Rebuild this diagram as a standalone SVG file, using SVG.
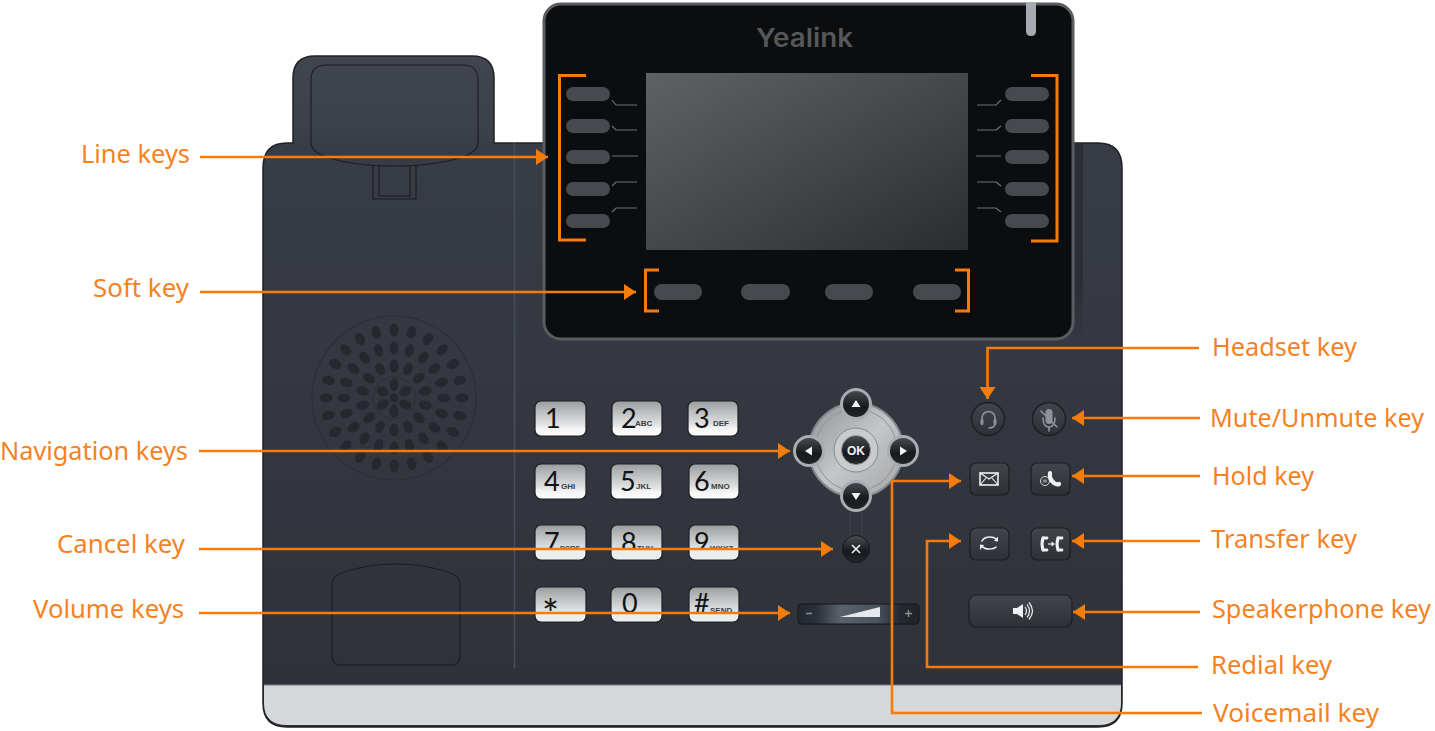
<svg xmlns="http://www.w3.org/2000/svg" width="1435" height="731" viewBox="0 0 1435 731">
<style>
.lbl{font-family:"Noto Sans","Open Sans",sans-serif;font-size:25.500px;fill:#f5821f}
.con{fill:none;stroke:#f57c0a;stroke-width:2.6}
.arr{marker-end:url(#ah)}
.brk{fill:none;stroke:#f57c0a;stroke-width:3}
.lk{fill:#46494d}
.tick{fill:none;stroke:#6e7174;stroke-width:1.2}
.key{fill:url(#kg);stroke:#1f2127;stroke-width:1.2}
.ks{fill:#eceded}
.dg{font-family:"Lato","Liberation Sans",sans-serif;font-size:27px;fill:#101214}
.sb{font-family:"Liberation Sans",sans-serif;font-size:8px;font-weight:bold;fill:#3a3c40}
.hole{fill:#25282e}
.nb{fill:url(#db);stroke:#a9acb0;stroke-width:3}
.tri{fill:#f1f2f3}
.fb{fill:url(#fbg);stroke:#1d1f24;stroke-width:1.2}
.fi{fill:url(#fbg);stroke:#1d1f24;stroke-width:1.5}
.ic{fill:none;stroke:#eef0f1;stroke-width:1.6;stroke-linecap:round}
.icf{fill:#eef0f1}
.dim{fill:none;stroke:#90949a;stroke-width:1.6;stroke-linecap:round}
.thin{fill:none;stroke:#1b1d22;stroke-width:1.1}
</style>
<defs>
<marker id="ah" markerUnits="userSpaceOnUse" markerWidth="13" markerHeight="16" refX="12" refY="8" orient="auto"><path d="M0,0L12,8L0,16z" fill="#f57c0a"/></marker>
<linearGradient id="body" x1="0" y1="0" x2="0" y2="1"><stop offset="0" stop-color="#41454e"/><stop offset=".11" stop-color="#3c4049"/><stop offset=".14" stop-color="#383c45"/><stop offset="1" stop-color="#2e3138"/></linearGradient>
<linearGradient id="strip" x1="0" y1="0" x2="0" y2="1"><stop offset="0" stop-color="#2a2d33"/><stop offset=".75" stop-color="#2c2f36"/><stop offset="1" stop-color="#2c2f36" stop-opacity="0"/></linearGradient>
<linearGradient id="scr" x1="0" y1="0" x2="1" y2="1"><stop offset="0" stop-color="#5e6264"/><stop offset=".6" stop-color="#404345"/><stop offset="1" stop-color="#2a2c2e"/></linearGradient>
<linearGradient id="kg" x1="0" y1="0" x2="0" y2="1"><stop offset="0" stop-color="#9a9d9f"/><stop offset=".65" stop-color="#dfe0e1"/><stop offset=".8" stop-color="#f5f5f5"/><stop offset="1" stop-color="#ffffff"/></linearGradient>
<linearGradient id="db" x1="0" y1="0" x2="0" y2="1"><stop offset="0" stop-color="#4a4d52"/><stop offset=".6" stop-color="#17191c"/><stop offset="1" stop-color="#23262a"/></linearGradient>
<linearGradient id="nd" x1="0" y1="0" x2="1" y2="1"><stop offset="0" stop-color="#8f9296"/><stop offset=".5" stop-color="#c4c6c8"/><stop offset="1" stop-color="#a3a6a9"/></linearGradient>
<linearGradient id="fbg" x1="0" y1="0" x2="0" y2="1"><stop offset="0" stop-color="#42454c"/><stop offset="1" stop-color="#2e3036"/></linearGradient>
<linearGradient id="vol" x1="0" y1="0" x2="1" y2="0"><stop offset="0" stop-color="#232830"/><stop offset=".15" stop-color="#2a3038"/><stop offset=".35" stop-color="#59616a"/><stop offset=".65" stop-color="#4b535c"/><stop offset=".85" stop-color="#232830"/><stop offset="1" stop-color="#20252b"/></linearGradient>
<ellipse id="h" class="hole" rx="4.500" ry="6.500"/>
</defs>

<g id="phone-body">
<path d="M293,143V78Q293,56 315,56H472Q494,56 494,78V143H1098Q1122,143 1122,168V703Q1122,727 1098,727H287Q263,727 263,703V168Q263,143 287,143Z" fill="url(#body)" stroke="#1f2126" stroke-width="1.500"/>
<path d="M264,685H1121V703Q1121,725 1098,725H287Q264,725 264,703Z" fill="#d6d7d9"/>
<path d="M264,685H1121" stroke="#7d8084" stroke-width="1"/>
<path d="M514.500,143V668" stroke="#4a4e57" stroke-width="1.500"/>
<rect x="1075" y="143" width="8" height="197" fill="url(#strip)"/>
</g>
<g id="handset-cradle">
<path d="M311,80Q311,65 326,65H463Q478,65 478,80V142Q478,152 462,157Q435,166 394,166Q353,166 327,157Q311,152 311,142Z" class="thin"/>
<path d="M373,166V199H416V166M379,166V196H410V166" class="thin"/>
</g>
<g id="hook-pad">
<path d="M332,585Q332,575 347,571Q370,564 396,564Q422,564 445,571Q460,575 460,585V656Q460,665 451,665H341Q332,665 332,656Z" class="thin"/>
</g>
<g id="speaker-grille" transform="translate(394 398)">
<circle r="82" fill="none" stroke="#2c2f35" stroke-width="1.200"/>
<circle r="21" fill="none" stroke="#2c2f35" stroke-width="1"/>
<circle r="4.500" class="hole"/>
<use href="#h" transform="rotate(0) translate(0 -13)"/><use href="#h" transform="rotate(60) translate(0 -13)"/><use href="#h" transform="rotate(120) translate(0 -13)"/><use href="#h" transform="rotate(180) translate(0 -13)"/><use href="#h" transform="rotate(240) translate(0 -13)"/><use href="#h" transform="rotate(300) translate(0 -13)"/>
<use href="#h" transform="rotate(0) translate(0 -32)"/><use href="#h" transform="rotate(25.700) translate(0 -32)"/><use href="#h" transform="rotate(51.400) translate(0 -32)"/><use href="#h" transform="rotate(77.100) translate(0 -32)"/><use href="#h" transform="rotate(102.900) translate(0 -32)"/><use href="#h" transform="rotate(128.600) translate(0 -32)"/><use href="#h" transform="rotate(154.300) translate(0 -32)"/><use href="#h" transform="rotate(180) translate(0 -32)"/><use href="#h" transform="rotate(205.700) translate(0 -32)"/><use href="#h" transform="rotate(231.400) translate(0 -32)"/><use href="#h" transform="rotate(257.100) translate(0 -32)"/><use href="#h" transform="rotate(282.900) translate(0 -32)"/><use href="#h" transform="rotate(308.600) translate(0 -32)"/><use href="#h" transform="rotate(334.300) translate(0 -32)"/>
<use href="#h" transform="rotate(0) translate(0 -50)"/><use href="#h" transform="rotate(18) translate(0 -50)"/><use href="#h" transform="rotate(36) translate(0 -50)"/><use href="#h" transform="rotate(54) translate(0 -50)"/><use href="#h" transform="rotate(72) translate(0 -50)"/><use href="#h" transform="rotate(90) translate(0 -50)"/><use href="#h" transform="rotate(108) translate(0 -50)"/><use href="#h" transform="rotate(126) translate(0 -50)"/><use href="#h" transform="rotate(144) translate(0 -50)"/><use href="#h" transform="rotate(162) translate(0 -50)"/><use href="#h" transform="rotate(180) translate(0 -50)"/><use href="#h" transform="rotate(198) translate(0 -50)"/><use href="#h" transform="rotate(216) translate(0 -50)"/><use href="#h" transform="rotate(234) translate(0 -50)"/><use href="#h" transform="rotate(252) translate(0 -50)"/><use href="#h" transform="rotate(270) translate(0 -50)"/><use href="#h" transform="rotate(288) translate(0 -50)"/><use href="#h" transform="rotate(306) translate(0 -50)"/><use href="#h" transform="rotate(324) translate(0 -50)"/><use href="#h" transform="rotate(342) translate(0 -50)"/>
<use href="#h" transform="rotate(0) translate(0 -68)"/><use href="#h" transform="rotate(15) translate(0 -68)"/><use href="#h" transform="rotate(30) translate(0 -68)"/><use href="#h" transform="rotate(45) translate(0 -68)"/><use href="#h" transform="rotate(60) translate(0 -68)"/><use href="#h" transform="rotate(75) translate(0 -68)"/><use href="#h" transform="rotate(90) translate(0 -68)"/><use href="#h" transform="rotate(105) translate(0 -68)"/><use href="#h" transform="rotate(120) translate(0 -68)"/><use href="#h" transform="rotate(135) translate(0 -68)"/><use href="#h" transform="rotate(150) translate(0 -68)"/><use href="#h" transform="rotate(165) translate(0 -68)"/><use href="#h" transform="rotate(180) translate(0 -68)"/><use href="#h" transform="rotate(195) translate(0 -68)"/><use href="#h" transform="rotate(210) translate(0 -68)"/><use href="#h" transform="rotate(225) translate(0 -68)"/><use href="#h" transform="rotate(240) translate(0 -68)"/><use href="#h" transform="rotate(255) translate(0 -68)"/><use href="#h" transform="rotate(270) translate(0 -68)"/><use href="#h" transform="rotate(285) translate(0 -68)"/><use href="#h" transform="rotate(300) translate(0 -68)"/><use href="#h" transform="rotate(315) translate(0 -68)"/><use href="#h" transform="rotate(330) translate(0 -68)"/><use href="#h" transform="rotate(345) translate(0 -68)"/>
</g>

<g id="display">
<rect x="544" y="4" width="529" height="335" rx="17" fill="#0c0d0e" stroke="#5a5c60" stroke-width="3"/>
<path d="M1026,3H1036V31Q1036,36 1031,36Q1026,36 1026,31Z" fill="#a7aab1"/>
<text x="756" y="47" font-family="Inter,'Liberation Sans',sans-serif" font-size="26" font-weight="600" fill="#55585b" textLength="97" lengthAdjust="spacingAndGlyphs">Yealink</text>
<rect x="646" y="73" width="322" height="177" fill="url(#scr)"/>
</g>
<g id="line-keys-left">
<rect class="lk" x="566" y="87" width="44" height="14" rx="7"/><rect class="lk" x="566" y="119" width="44" height="14" rx="7"/><rect class="lk" x="566" y="150" width="44" height="14" rx="7"/><rect class="lk" x="566" y="182" width="44" height="14" rx="7"/><rect class="lk" x="566" y="214" width="44" height="14" rx="7"/>
<path class="tick" d="M612,100L616,105H637M612,126L616,130H637M612,156H638M612,186L616,182H637M612,212L616,208H637"/>
<path class="brk" d="M586,75.500H559.500V240H586"/>
</g>
<g id="line-keys-right">
<rect class="lk" x="1005" y="87" width="44" height="14" rx="7"/><rect class="lk" x="1005" y="119" width="44" height="14" rx="7"/><rect class="lk" x="1005" y="150" width="44" height="14" rx="7"/><rect class="lk" x="1005" y="182" width="44" height="14" rx="7"/><rect class="lk" x="1005" y="214" width="44" height="14" rx="7"/>
<path class="tick" d="M977,105H996L1001,100M977,130H996L1001,126M976,156H1001M977,182H996L1001,186M977,208H996L1001,212"/>
<path class="brk" d="M1031,75.500H1057V241H1031"/>
</g>
<g id="soft-keys">
<rect class="lk" x="654" y="284" width="48" height="16" rx="8"/><rect class="lk" x="741" y="284" width="49" height="16" rx="8"/><rect class="lk" x="825" y="284" width="48" height="16" rx="8"/><rect class="lk" x="913" y="284" width="48" height="16" rx="8"/>
<path class="brk" d="M659,270H645.500V311H659M955,270H968.500V311H955"/>
</g>

<g id="keypad">
<rect class="key" x="535" y="401" width="51" height="35" rx="6"/><text class="dg" x="545" y="428">1</text>
<rect class="key" x="612" y="401" width="50" height="35" rx="6"/><text class="dg" x="621" y="428">2</text><text class="sb" x="635" y="426">ABC</text>
<rect class="key" x="688" y="401" width="50" height="35" rx="6"/><text class="dg" x="694" y="428">3</text><text class="sb" x="713" y="426">DEF</text>
<rect class="key" x="535" y="464" width="51" height="35" rx="6"/><text class="dg" x="544" y="491">4</text><text class="sb" x="561" y="489">GHI</text>
<rect class="key" x="611" y="464" width="51" height="35" rx="6"/><text class="dg" x="620" y="491">5</text><text class="sb" x="636" y="489">JKL</text>
<rect class="key" x="689" y="464" width="50" height="35" rx="6"/><text class="dg" x="694" y="491">6</text><text class="sb" x="711" y="489">MNO</text>
<rect class="key" x="535" y="525" width="51" height="35" rx="6"/><text class="dg" x="544" y="552">7</text><text class="sb" x="560" y="551" textLength="20" lengthAdjust="spacingAndGlyphs">PQRS</text><rect class="ks" x="537" y="550" width="47" height="9" rx="3"/>
<rect class="key" x="611" y="525" width="51" height="35" rx="6"/><text class="dg" x="621" y="552">8</text><text class="sb" x="637" y="551">TUV</text><rect class="ks" x="613" y="550" width="47" height="9" rx="3"/>
<rect class="key" x="689" y="525" width="50" height="35" rx="6"/><text class="dg" x="694" y="552">9</text><text class="sb" x="710" y="551">WXYZ</text><rect class="ks" x="691" y="550" width="46" height="9" rx="3"/>
<rect class="key" x="535" y="587" width="51" height="35" rx="6"/><text class="dg" x="542" y="629" style="font-size:40px">*</text><text class="dg" x="566" y="616">.</text><rect class="ks" x="537" y="614" width="47" height="7" rx="3"/>
<rect class="key" x="611" y="587" width="51" height="35" rx="6"/><text class="dg" x="622" y="613">0</text><rect class="ks" x="613" y="614" width="47" height="7" rx="3"/>
<rect class="key" x="689" y="587" width="50" height="35" rx="6"/><text class="dg" x="694" y="613">#</text><text class="sb" x="710" y="613">SEND</text><rect class="ks" x="691" y="614" width="46" height="7" rx="3"/>
</g>

<g id="navigation">
<circle cx="856" cy="450" r="47" fill="url(#nd)" stroke="#85888c" stroke-width="2"/>
<circle cx="856" cy="450" r="41" fill="none" stroke="#8f9296" stroke-width="1"/>
<circle class="nb" cx="856" cy="404" r="14.500"/><path class="tri" d="M856,400L860.500,407H851.500Z"/>
<circle class="nb" cx="856" cy="496" r="14.500"/><path class="tri" d="M856,500L860.500,493H851.500Z"/>
<circle class="nb" cx="809" cy="451" r="14.500"/><path class="tri" d="M805,451L812,446.500V455.500Z"/>
<circle class="nb" cx="903" cy="451" r="14.500"/><path class="tri" d="M907,451L900,446.500V455.500Z"/>
<circle cx="856" cy="450" r="22" fill="#c9cbcd" stroke="#85888c" stroke-width="1"/>
<circle cx="856" cy="450" r="14.500" fill="url(#db)" stroke="#8f9296" stroke-width="1"/>
<text x="856" y="454.500" text-anchor="middle" font-family="'Liberation Sans',sans-serif" font-size="12" font-weight="bold" fill="#f1f2f3">OK</text>
</g>
<g id="cancel-key">
<path d="M850,513V535M862,513V535" stroke="#3f434b" stroke-width="1" fill="none"/>
<circle cx="856" cy="549" r="13.500" fill="url(#db)" stroke="#15171a" stroke-width="1"/>
<path d="M852,545L860,553M860,545L852,553" stroke="#f1f2f3" stroke-width="1.600" fill="none"/>
</g>
<g id="volume-keys">
<rect x="798" y="604" width="121" height="20" rx="3" fill="url(#vol)" stroke="#15171a"/>
<path d="M806,613.500H812M905,613.500H912M908.500,610V617" stroke="#8a8e93" stroke-width="1.400" fill="none"/>
<path d="M840,617L880,607V617Z" fill="#e6e8e9"/>
</g>
<g id="headset-key">
<circle class="fi" cx="988" cy="419" r="16.500"/>
<path class="dim" d="M982,422V418A6.500,6.500 0 0 1 995,418V422"/><path class="dim" d="M995,424Q994,428 989,428"/>
<rect x="980.500" y="419" width="3" height="6" rx="1.500" fill="#90949a"/><rect x="993.500" y="419" width="3" height="6" rx="1.500" fill="#90949a"/>
</g>
<g id="mute-key">
<circle class="fi" cx="1049" cy="419" r="16.500"/>
<rect x="1045.500" y="409" width="7" height="15" rx="3.500" fill="#8f9398"/>
<path class="dim" d="M1043,418Q1043,427 1049,427Q1055,427 1055,418M1049,427V431M1041,411L1057,427"/>
</g>
<g id="voicemail-key">
<rect class="fb" x="970" y="463" width="39" height="32" rx="6"/>
<rect x="980" y="473" width="18" height="12" fill="none" stroke="#eef0f1" stroke-width="1.600"/><path d="M980,473L989,479L998,473M980,485L986,478M998,485L992,478" fill="none" stroke="#eef0f1" stroke-width="1.100"/>
</g>
<g id="hold-key">
<rect class="fb" x="1031" y="463" width="39" height="32" rx="6"/>
<circle cx="1045" cy="481" r="4.500" fill="none" stroke="#d8dadc" stroke-width="1"/><path d="M1044,479.500V482.500M1046,479.500V482.500" stroke="#d8dadc" stroke-width="1"/>
<path d="M1050,473Q1049,479 1054,483Q1057,485 1059,484" fill="none" stroke="#eef0f1" stroke-width="4.200" stroke-linecap="round"/>
</g>
<g id="redial-key">
<rect class="fb" x="970" y="528" width="39" height="32" rx="6"/>
<path class="ic" d="M982,541Q984,537 990,537Q994,537 996,539M996,547Q994,549 989,549Q984,549 982,546"/>
<path class="icf" d="M994,541L998,536.500V541.500ZM984,545L980,550V544.500Z"/>
</g>
<g id="transfer-key">
<rect class="fb" x="1031" y="528" width="39" height="32" rx="6"/>
<path d="M1043,538Q1041,544 1043,550M1058,538Q1056,544 1058,550" fill="none" stroke="#eef0f1" stroke-width="3" stroke-linecap="round"/>
<path d="M1043,538H1047M1043,550H1047M1058,538H1062M1058,550H1062" stroke="#eef0f1" stroke-width="2.800" stroke-linecap="round"/>
<path d="M1048,544H1053" stroke="#eef0f1" stroke-width="1.200"/><path class="icf" d="M1055,544L1051.500,541.500V546.500Z"/>
</g>
<g id="speakerphone-key">
<rect class="fb" x="969" y="595" width="103" height="32" rx="7"/>
<path class="icf" d="M1013,608H1017L1023,604V618L1017,614H1013Z"/>
<path d="M1025,607Q1028,611 1025,615M1027,604.500Q1032,611 1027,617.500M1029,602.500Q1036,611 1029,619.500" fill="none" stroke="#eef0f1" stroke-width="1.200"/>
</g>

<g id="connectors">
<path class="con arr" d="M200,157H548"/>
<path class="con arr" d="M200,292H636"/>
<path class="con arr" d="M199,451H790"/>
<path class="con arr" d="M199,549H833"/>
<path class="con arr" d="M199,613H790"/>
<path class="con arr" d="M1199,348H987.500V399"/>
<path class="con arr" d="M1200,418H1072"/>
<path class="con arr" d="M1200,476H1072"/>
<path class="con arr" d="M1200,541H1072"/>
<path class="con arr" d="M1200,612H1073"/>
<path class="con arr" d="M1198,667H927V541H961"/>
<path class="con arr" d="M1202,713H892V481H961"/>
</g>
<g id="labels">
<text class="lbl" x="81" y="163" textLength="109" lengthAdjust="spacingAndGlyphs">Line keys</text>
<text class="lbl" x="93" y="297" textLength="96" lengthAdjust="spacingAndGlyphs">Soft key</text>
<text class="lbl" x="0" y="460" textLength="188" lengthAdjust="spacingAndGlyphs">Navigation keys</text>
<text class="lbl" x="57" y="553" textLength="128" lengthAdjust="spacingAndGlyphs">Cancel key</text>
<text class="lbl" x="33" y="618" textLength="151" lengthAdjust="spacingAndGlyphs">Volume keys</text>
<text class="lbl" x="1212" y="356" textLength="145" lengthAdjust="spacingAndGlyphs">Headset key</text>
<text class="lbl" x="1210" y="427" textLength="214" lengthAdjust="spacingAndGlyphs">Mute/Unmute key</text>
<text class="lbl" x="1212" y="485" textLength="102" lengthAdjust="spacingAndGlyphs">Hold key</text>
<text class="lbl" x="1211" y="548" textLength="146" lengthAdjust="spacingAndGlyphs">Transfer key</text>
<text class="lbl" x="1212" y="618" textLength="219" lengthAdjust="spacingAndGlyphs">Speakerphone key</text>
<text class="lbl" x="1211" y="674" textLength="121" lengthAdjust="spacingAndGlyphs">Redial key</text>
<text class="lbl" x="1213" y="722" textLength="166" lengthAdjust="spacingAndGlyphs">Voicemail key</text>
</g>
</svg>
